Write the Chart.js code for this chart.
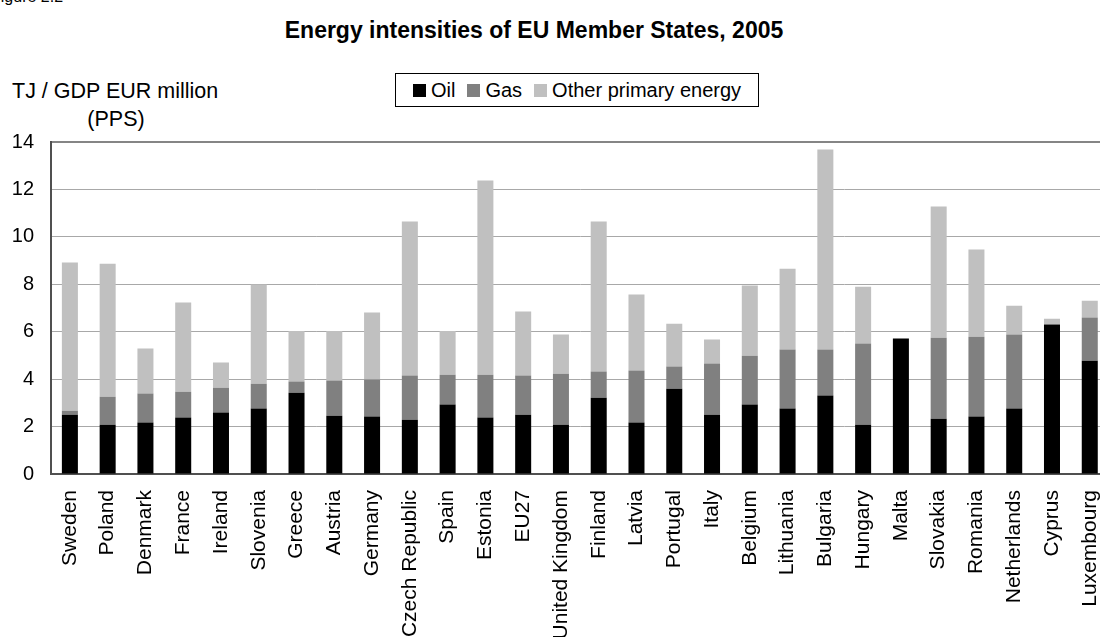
<!DOCTYPE html>
<html>
<head>
<meta charset="utf-8">
<title>Energy intensities of EU Member States, 2005</title>
<script src="https://cdn.jsdelivr.net/npm/chart.js@4/dist/chart.umd.min.js"></script>
<style>
  html, body { margin: 0; padding: 0; background: #fff; overflow: hidden; }
  body { width: 1100px; height: 637px; position: relative; font-family: "Liberation Sans", Arial, sans-serif; color: #000; }
  #wrap { position: absolute; left: 0; top: 0; width: 1131px; height: 700px; }
  .txt { position: absolute; white-space: nowrap; }
  #fig { left: -9px; top: -12px; font-size: 16px; }
  #title { left: 534px; top: 17px; transform: translateX(-50%); font-size: 23px; font-weight: bold; }
  #ytitle1 { left: 12px; top: 79px; font-size: 21.5px; line-height: 24px; }
  #ytitle2 { left: 116px; top: 107px; font-size: 21.5px; line-height: 24px; transform: translateX(-50%); }
  #legend { position: absolute; left: 395px; top: 73px; width: 362px; height: 32px; border: 1px solid #000;
            display: flex; align-items: center; justify-content: center; font-size: 20px; }
  #legend .item { display: flex; align-items: center; margin: 0 6px; }
  #legend .sw { width: 13px; height: 13px; margin-right: 5px; }
</style>
</head>
<body>
<div class="txt" id="fig">Figure 2.2</div>
<div class="txt" id="title">Energy intensities of EU Member States, 2005</div>
<div class="txt" id="ytitle1">TJ / GDP EUR million</div>
<div class="txt" id="ytitle2">(PPS)</div>
<div id="legend"></div>
<div id="wrap"><canvas id="chart" width="1131" height="700"></canvas></div>
<script>
const countries = ["Sweden", "Poland", "Denmark", "France", "Ireland", "Slovenia", "Greece", "Austria", "Germany",
  "Czech Republic", "Spain", "Estonia", "EU27", "United Kingdom", "Finland", "Latvia", "Portugal", "Italy",
  "Belgium", "Lithuania", "Bulgaria", "Hungary", "Malta", "Slovakia", "Romania", "Netherlands", "Cyprus", "Luxembourg"];

const oil = [2.50, 2.08, 2.17, 2.38, 2.59, 2.76, 3.43, 2.46, 2.42,
  2.29, 2.93, 2.38, 2.50, 2.08, 3.22, 2.17, 3.60, 2.50,
  2.93, 2.76, 3.31, 2.08, 5.71, 2.33, 2.42, 2.76, 6.30, 4.78];

const gas = [0.17, 1.18, 1.22, 1.09, 1.05, 1.05, 0.47, 1.48, 1.56,
  1.86, 1.26, 1.81, 1.65, 2.15, 1.10, 2.19, 0.93, 2.16,
  2.06, 2.49, 1.94, 3.42, 0.00, 3.42, 3.37, 3.12, 0.00, 1.82];

const otherPrimary = [6.25, 5.61, 1.90, 3.76, 1.06, 4.18, 2.13, 2.09, 2.83,
  6.50, 1.84, 8.19, 2.70, 1.65, 6.33, 3.21, 1.81, 1.01,
  2.96, 3.41, 8.43, 2.40, 0.00, 5.53, 3.68, 1.22, 0.25, 0.71];

const seriesNames = ["Oil", "Gas", "Other primary energy"];
const seriesColors = ["#000000", "#808080", "#c0c0c0"];
const yTicks = [0, 2, 4, 6, 8, 10, 12, 14];

// legend in a box, like the original
const legend = document.getElementById("legend");
seriesNames.forEach((name, i) => {
  const item = document.createElement("div");
  item.className = "item";
  item.innerHTML = `<span class="sw" style="background:${seriesColors[i]}"></span><span>${name}</span>`;
  legend.appendChild(item);
});

const ctx = document.getElementById("chart").getContext("2d");
new Chart(ctx, {
  type: "bar",
  data: {
    labels: countries,
    datasets: [oil, gas, otherPrimary].map((values, i) => ({
      label: seriesNames[i],
      data: values,
      backgroundColor: seriesColors[i],
      borderWidth: 0,
      barPercentage: 1,
      categoryPercentage: 0.424
    }))
  },
  options: {
    responsive: false,
    animation: false,
    devicePixelRatio: 1,
    layout: { padding: { top: 142, right: 2, left: 0, bottom: 0 } },
    plugins: {
      legend: { display: false },
      title: { display: false },
      tooltip: { enabled: false }
    },
    scales: {
      x: {
        stacked: true,
        grid: { display: false, drawTicks: false },
        border: { color: "#505050", width: 2 },
        ticks: {
          autoSkip: false,
          minRotation: 90,
          maxRotation: 90,
          padding: 16,
          color: "#000",
          font: { family: "Liberation Sans", size: 21 }
        },
        afterFit: scale => { scale.height = 700 - 474; }
      },
      y: {
        stacked: true,
        min: 0,
        max: 14,
        afterBuildTicks: scale => { scale.ticks = yTicks.map(v => ({ value: v })); },
        grid: {
          drawTicks: false,
          color: c => (c.tick && c.tick.value === 14 ? "#858585" : "#a8a8a8"),
          lineWidth: c => (c.tick && c.tick.value === 14 ? 2 : 1)
        },
        border: { color: "#505050", width: 2 },
        ticks: {
          padding: 17,
          color: "#000",
          font: { family: "Liberation Sans", size: 20 }
        },
        afterFit: scale => { scale.width = 51; }
      }
    }
  }
});
</script>
</body>
</html>
